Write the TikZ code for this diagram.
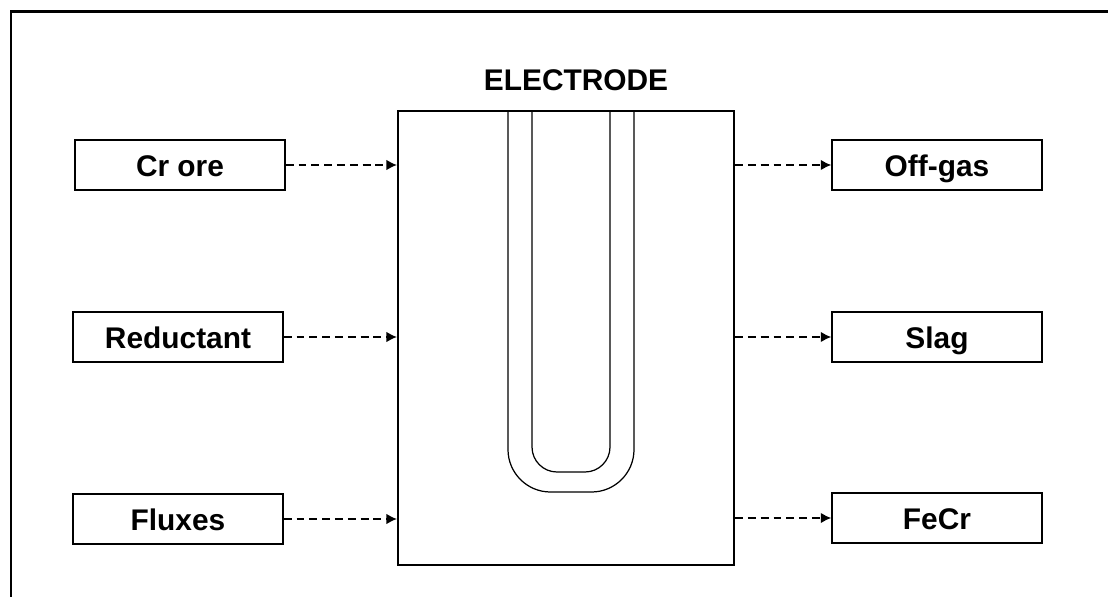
\documentclass[tikz,border=0pt]{standalone}
\usepackage{fontspec}
\setmainfont{Liberation Sans}
\usepackage{tikz}
\usetikzlibrary{positioning, arrows.meta}

\tikzset{
  flowbox/.style={draw, line width=0.8pt, minimum width=4.2cm, minimum height=1cm,
                  inner sep=0pt, text height=13.5pt, text depth=0pt,
                  font=\fontsize{17}{20}\selectfont\bfseries},
  feed/.style={dashed, dash pattern=on 4.5pt off 2.8pt, line width=0.9pt,
               -{Latex[length=6pt, width=6pt]}}
}

\begin{document}
\begin{tikzpicture}[x=0.02cm, y=-0.02cm]
    \useasboundingbox (0,0) rectangle (1108,597);
    % outer frame, cut by the page edge
    \begin{scope}
      \clip (0,0) rectangle (1108,597);
      \draw[line width=1.7pt] (11,12) rectangle (1160,660);
    \end{scope}

    % furnace
    \node[draw, line width=1.2pt, minimum width=6.72cm, minimum height=9.08cm,
          inner sep=0pt] (furnace) at (566,338) {};
    \node[font=\fontsize{17}{20}\selectfont\bfseries] (electrodelabel) at (576,80) {ELECTRODE};

    % electrode
    \draw[line width=0.7pt, rounded corners=0.85cm] (508,111) -- (508,492) -- (634,492) -- (634,111);
    \draw[line width=0.7pt, rounded corners=0.5cm] (532,111) -- (532,472) -- (610,472) -- (610,111);

    % inputs
    \node[flowbox] (crore) at (180,165) {Cr ore};
    \node[flowbox] (reductant) at (178,337) {Reductant};
    \node[flowbox] (fluxes) at (178,519) {Fluxes};

    % outputs
    \node[flowbox] (offgas) at (937,165) {Off-gas};
    \node[flowbox] (slag) at (937,337) {Slag};
    \node[flowbox] (fecr) at (937,518) {FeCr};

    \draw[feed] (crore.east) -- (crore.east -| furnace.west);
    \draw[feed] (reductant.east) -- (reductant.east -| furnace.west);
    \draw[feed] (fluxes.east) -- (fluxes.east -| furnace.west);
    \draw[feed] (offgas.west -| furnace.east) -- (offgas.west);
    \draw[feed] (slag.west -| furnace.east) -- (slag.west);
    \draw[feed] (fecr.west -| furnace.east) -- (fecr.west);
\end{tikzpicture}
\end{document}
